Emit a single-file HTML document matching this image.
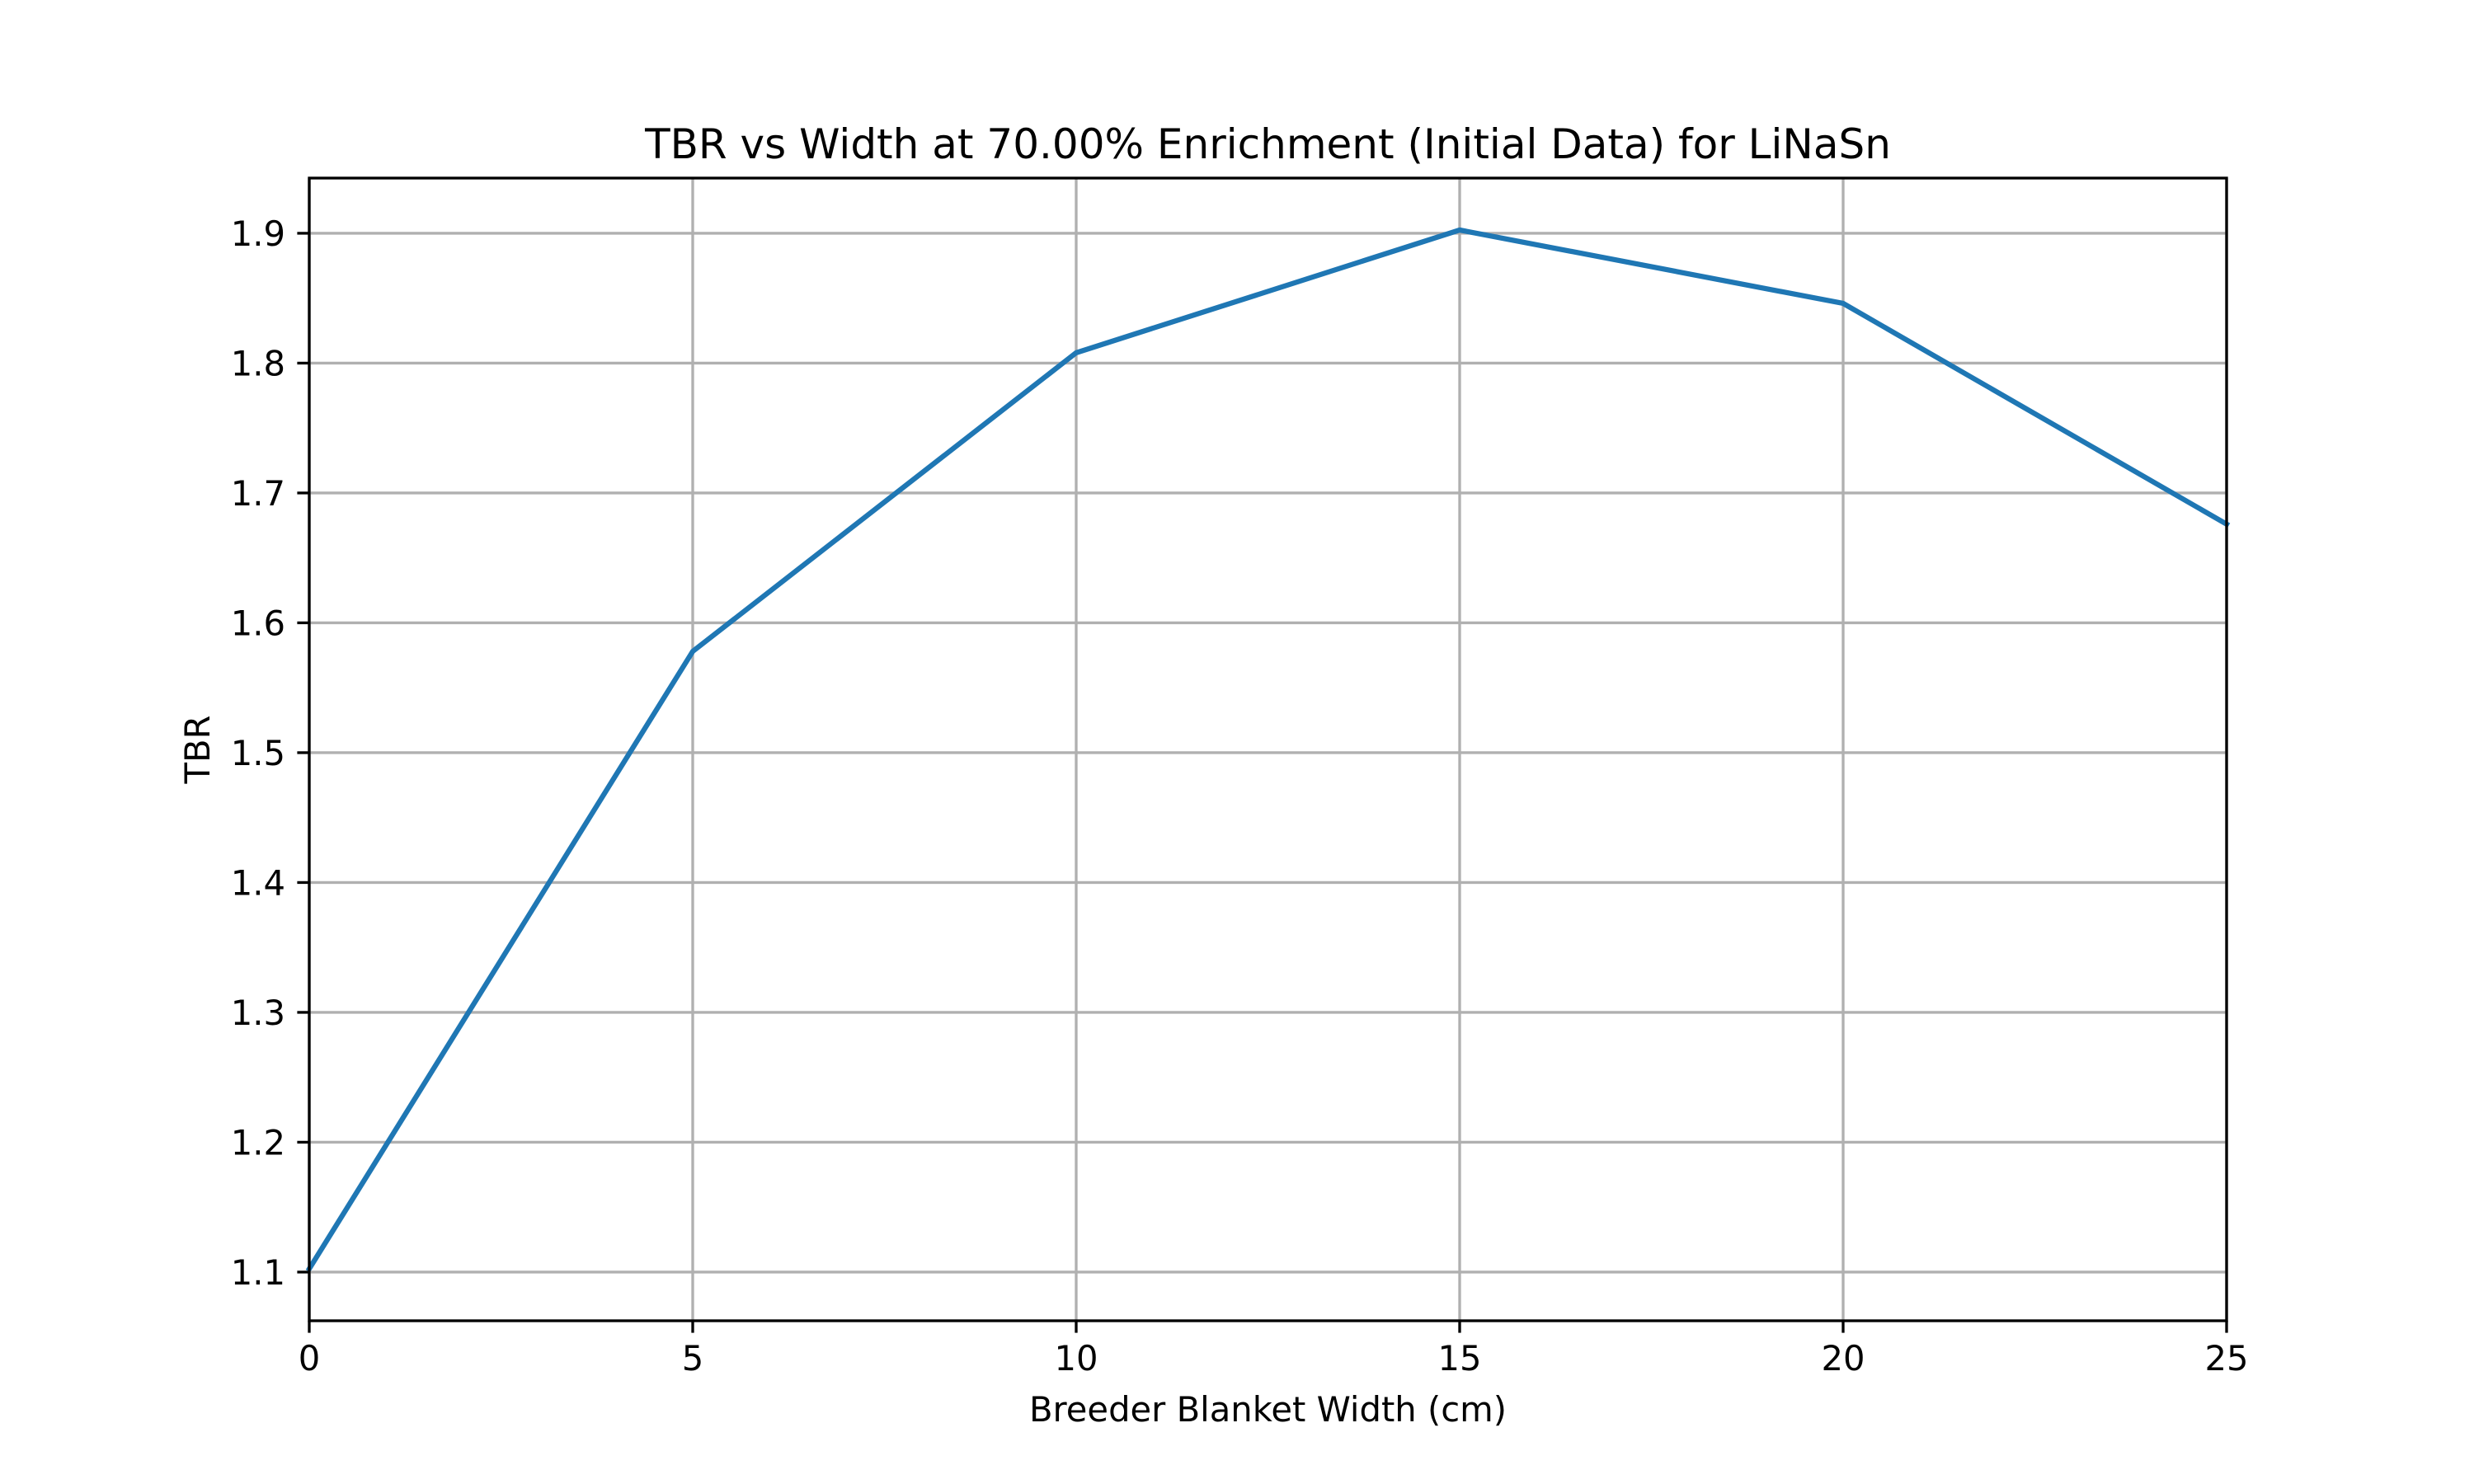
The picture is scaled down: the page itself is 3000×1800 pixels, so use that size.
<!DOCTYPE html>
<html><head><meta charset="utf-8"><style>
html,body{margin:0;padding:0;background:#fff;}
svg{display:block;font-family:"DejaVu Sans","Liberation Sans",sans-serif;}
</style></head><body>
<svg id="chart" width="3000" height="1800" viewBox="0 0 3000 1800">
<rect x="0" y="0" width="3000" height="1800" fill="#fff"/>
<g id="grid"></g>
<g id="ticks"></g>
<path id="line" fill="none" stroke="#1f77b4" stroke-width="6.25" stroke-linejoin="round" stroke-linecap="square"/>
<rect x="375" y="216" width="2325" height="1386" fill="none" stroke="#000" stroke-width="3.33"/>
<text x="1537.5" y="192" font-size="50" text-anchor="middle">TBR vs Width at 70.00% Enrichment (Initial Data) for LiNaSn</text>
<text x="1537.5" y="1724" font-size="41.7" text-anchor="middle">Breeder Blanket Width (cm)</text>
<text x="0" y="0" font-size="41.7" text-anchor="middle" transform="translate(254,909) rotate(-90)">TBR</text>
</svg>
<script>
const xValues=[0,5,10,15,20,25];
const tbrValues=[1.1025,1.578,1.808,1.9025,1.846,1.676];
const xTicks=[0,5,10,15,20,25];
const yTicks=[1.1,1.2,1.3,1.4,1.5,1.6,1.7,1.8,1.9];
const X0=375,X1=2700,Y0=1602,Y1=216;
const xmin=0,xmax=25;
const dmin=Math.min(...tbrValues),dmax=Math.max(...tbrValues),pad=(dmax-dmin)*0.05;
const ymin=dmin-pad,ymax=dmax+pad;
const sx=v=>X0+(v-xmin)/(xmax-xmin)*(X1-X0);
const sy=v=>Y0-(v-ymin)/(ymax-ymin)*(Y0-Y1);
const NS="http://www.w3.org/2000/svg";
const grid=document.getElementById('grid'),ticks=document.getElementById('ticks');
function mk(tag,attrs,parent){const e=document.createElementNS(NS,tag);for(const k in attrs)e.setAttribute(k,attrs[k]);parent.appendChild(e);return e;}
xTicks.forEach(t=>{const x=sx(t);
const g=mk('line',{x1:x,x2:x,y1:Y1,y2:Y0,stroke:'#b0b0b0','stroke-width':3.33},grid);


const tk=mk('line',{x1:x,x2:x,y1:Y0,y2:Y0+14.6,stroke:'#000','stroke-width':3.33},ticks);


const tx=mk('text',{x:x,y:Y0+60,'font-size':41.7,'text-anchor':'middle'},ticks);tx.textContent=t;


});
yTicks.forEach(t=>{const y=sy(t);
const g=mk('line',{x1:X0,x2:X1,y1:y,y2:y,stroke:'#b0b0b0','stroke-width':3.33},grid);


const tk=mk('line',{x1:X0-14.6,x2:X0,y1:y,y2:y,stroke:'#000','stroke-width':3.33},ticks);


const tx=mk('text',{x:X0-29,y:y+15,'font-size':41.7,'text-anchor':'end'},ticks);tx.textContent=t.toFixed(1);


});
document.getElementById('line').setAttribute('d',xValues.map((v,i)=>(i?'L':'M')+sx(v)+','+sy(tbrValues[i])).join(' '));
</script>
</body></html>
